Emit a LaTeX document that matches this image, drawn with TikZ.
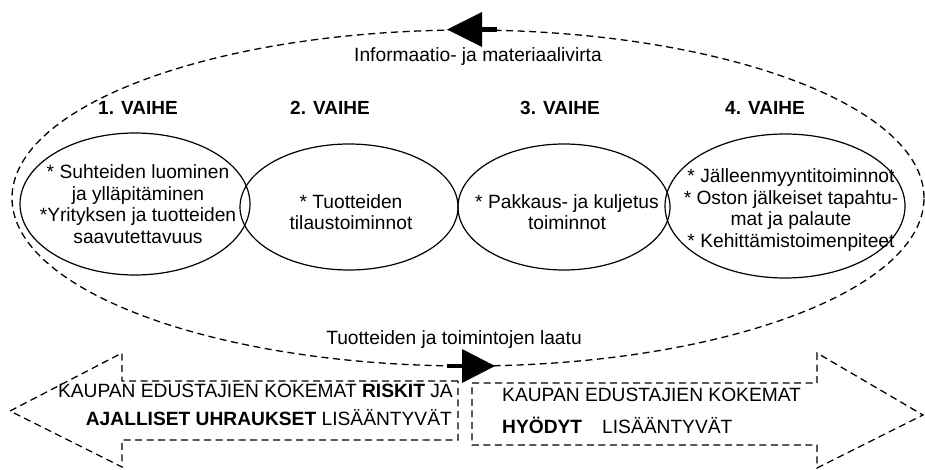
\documentclass[tikz,border=0pt]{standalone}
\usepackage{fontspec}
\setmainfont{Liberation Sans}
\usetikzlibrary{shapes.geometric}
\begin{document}
\begin{tikzpicture}[x=1pt,y=-1pt,
  txt/.style={font=\fontsize{19.2}{21.7}\selectfont, inner sep=0pt, align=center},
  vaihe/.style={font=\fontsize{19}{21.7}\selectfont\bfseries, inner sep=0pt},
  phase/.style={draw, line width=1.2pt, ellipse, inner sep=0pt},
  dsh/.style={line width=1.3pt, dash pattern=on 7pt off 4.5pt},
  tipfill/.style={fill=black},
  stem/.style={line width=4.5pt}
  ]
\useasboundingbox (0,0) rectangle (925,470);
% outer dashed cycle
\node[dsh, draw, ellipse, minimum width=912pt, minimum height=336pt, inner sep=0pt] (outer) at (468,198) {};
% flow arrows on the cycle
\coordinate (toptip) at (447,29.5);
\coordinate (bottip) at (495,366);
\fill[tipfill] (toptip) -- (482,12) -- (482,47) -- cycle;
\draw[stem] (481,29.5) -- (497,29.5);
\fill[tipfill] (bottip) -- (462,349) -- (462,383) -- cycle;
\draw[stem] (447,366) -- (463,366);
% labels on cycle
\node[txt] (flow) at (478,57) {Informaatio- ja materiaalivirta};
\node[txt] (qual) at (454,340) {Tuotteiden ja toimintojen laatu};
% phase titles
\node[vaihe] (v1) at (138,108) {1. VAIHE};
\node[vaihe] (v2) at (330,108) {2. VAIHE};
\node[vaihe] (v3) at (560,108) {3. VAIHE};
\node[vaihe] (v4) at (765,108) {4. VAIHE};
% phase ellipses
\node[phase, minimum width=230pt, minimum height=142pt] (e1) at (135,204) {};
\node[phase, minimum width=218pt, minimum height=126pt] (e2) at (349,207) {};
\node[phase, minimum width=212pt, minimum height=126pt] (e3) at (564,207) {};
\node[phase, minimum width=240pt, minimum height=144pt] (e4) at (785,206) {};
\node[txt] (t1) at (138,204) {* Suhteiden luominen\\ja ylläpitäminen\\*Yrityksen ja tuotteiden\\saavutettavuus};
\node[txt] (t2) at (351,212) {* Tuotteiden\\tilaustoiminnot};
\node[txt] (t3) at (567,212) {* Pakkaus- ja kuljetus\\toiminnot};
\node[txt] (t4) at (791,210) {* Jälleenmyyntitoiminnot\\* Oston jälkeiset tapahtu-\\mat ja palaute\\* Kehittämistoimenpiteet};
% block arrows
\draw[dsh] (458,381) -- (122,381) -- (122,353) -- (10,411) -- (122,467) -- (122,440) -- (458,440) -- cycle;
\draw[dsh] (472,383) -- (817,383) -- (817,353) -- (923,415) -- (817,468) -- (817,445) -- (472,445) -- cycle;
\node[txt, anchor=east] (l1) at (453,391) {KAUPAN EDUSTAJIEN KOKEMAT \textbf{RISKIT} JA};
\node[txt, anchor=east] (l2) at (452,418) {\textbf{AJALLISET UHRAUKSET} LISÄÄNTYVÄT};
\node[txt, anchor=west] (r1) at (502,395) {KAUPAN EDUSTAJIEN KOKEMAT};
\node[txt, anchor=west] (r2) at (502,425) {\textbf{HYÖDYT}\hspace{20pt}LISÄÄNTYVÄT};
\end{tikzpicture}
\end{document}
